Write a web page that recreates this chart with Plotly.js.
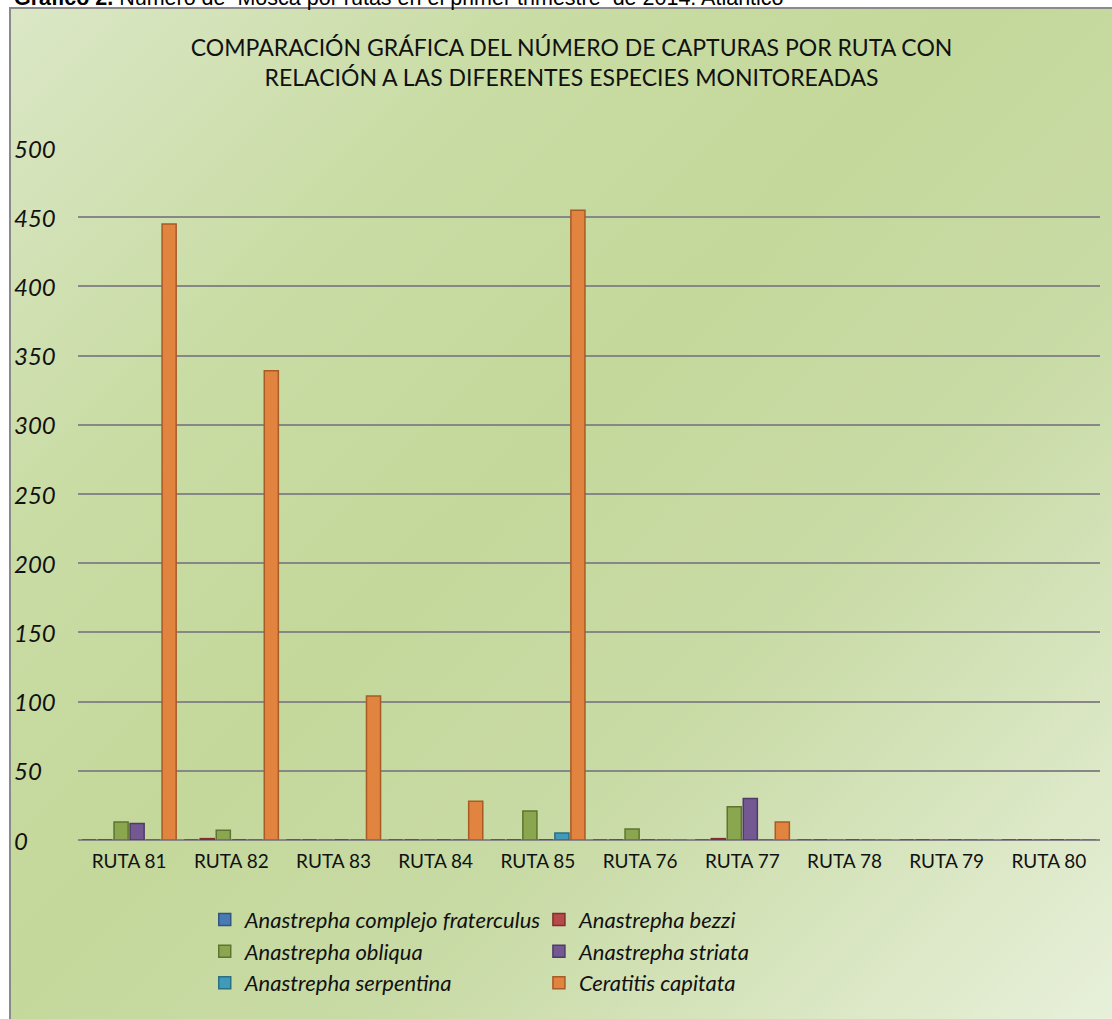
<!DOCTYPE html>
<html>
<head>
<meta charset="utf-8">
<script src="https://cdn.plot.ly/plotly-3.0.1.min.js"></script>
<style>
  html, body { margin: 0; padding: 0; background: #ffffff; overflow: hidden; }
  #frame {
    position: absolute; left: 9px; top: 7px; width: 1120px; height: 1030px;
    border-left: 2px solid #8a8a8a; border-top: 2px solid #8a8a8a;
    background: linear-gradient(135deg, #dbe7c6 0%, #c9dca4 25%, #c4d89b 45%, #c9dba6 65%, #e9f1dd 100%);
  }
  #chart { position: absolute; left: 0; top: 0; width: 1112px; height: 1019px; }
</style>
</head>
<body>
<div id="frame"></div>
<div id="chart"></div>
<script>
const categories = ["RUTA 81", "RUTA 82", "RUTA 83", "RUTA 84", "RUTA 85", "RUTA 76", "RUTA 77", "RUTA 78", "RUTA 79", "RUTA 80"];
const fraterculus = [0, 0, 0, 0, 0, 0, 0, 0, 0, 0];
const bezzi       = [0, 1, 0, 0, 0, 0, 1, 0, 0, 0];
const obliqua     = [13, 7, 0, 0, 21, 8, 24, 0, 0, 0];
const striata     = [12, 0, 0, 0, 0, 0, 30, 0, 0, 0];
const serpentina  = [0, 0, 0, 0, 5, 0, 0, 0, 0, 0];
const capitata    = [445, 339, 104, 28, 455, 0, 13, 0, 0, 0];
const yTicks = [0, 50, 100, 150, 200, 250, 300, 350, 400, 450, 500];

const seriesNames = ["Anastrepha complejo fraterculus", "Anastrepha bezzi", "Anastrepha obliqua",
                     "Anastrepha striata", "Anastrepha serpentina", "Ceratitis capitata"];
const seriesValues = [fraterculus, bezzi, obliqua, striata, serpentina, capitata];
const fills = ["#4a7ab5", "#b8494a", "#8aa74f", "#735892", "#3f9bb8", "#e0843f"];
const lines = ["#31557f", "#7f2f2f", "#5d7530", "#4f3a69", "#2a6f86", "#a95a25"];

const traces = seriesNames.map((n, i) => ({
  type: "bar", name: n, x: categories, y: seriesValues[i],
  legend: (i % 2 === 0) ? "legend" : "legend2",
  legendgroup: "g" + i,
  marker: { color: fills[i], line: { color: lines[i], width: 1.5 } },
  hoverinfo: "x+y+name"
}));

const annotations = yTicks.map(v => ({
  xref: "paper", yref: "y", x: 0, y: v, xshift: -66, xanchor: "left", yanchor: "middle",
  text: String(v), showarrow: false,
  font: { family: "Lato, 'Open Sans', sans-serif", size: 24, color: "#111", style: "italic" }
}));
annotations.push({
  xref: "paper", yref: "paper", x: 0, y: 1, xshift: -66, yshift: 148 - 12, xanchor: "left", yanchor: "bottom",
  text: "<b>Gráfico 2.</b> Número de  Mosca por rutas en el primer trimestre  de 2014. Atlántico",
  showarrow: false,
  font: { family: "'Liberation Sans', Arial, sans-serif", size: 21.5, color: "#000" }
});

const legendFont = { family: "Lato, 'Open Sans', sans-serif", size: 22, color: "#111", style: "italic" };

const layout = {
  width: 1112, height: 1019,
  paper_bgcolor: "rgba(0,0,0,0)", plot_bgcolor: "rgba(0,0,0,0)",
  margin: { l: 78, r: 12, t: 148, b: 179, autoexpand: false },
  title: {
    text: "COMPARACIÓN GRÁFICA DEL NÚMERO DE CAPTURAS POR RUTA CON<br>RELACIÓN A LAS DIFERENTES ESPECIES MONITOREADAS",
    x: 0.514, xanchor: "center", y: 0.945, yanchor: "top",
    font: { family: "Lato, 'Open Sans', sans-serif", size: 23, color: "#111" }
  },
  barmode: "group", bargap: 0.06, bargroupgap: 0.12,
  showlegend: true,
  legend: {
    orientation: "v", x: 0.124, xanchor: "left", y: -0.085, yanchor: "top",
    tracegroupgap: 4, font: legendFont, bgcolor: "rgba(0,0,0,0)", traceorder: "normal"
  },
  legend2: {
    orientation: "v", x: 0.451, xanchor: "left", y: -0.085, yanchor: "top",
    tracegroupgap: 4, font: legendFont, bgcolor: "rgba(0,0,0,0)", traceorder: "normal"
  },
  xaxis: {
    type: "category", showgrid: false, showline: false, ticks: "", automargin: false,
    tickfont: { family: "Lato, 'Open Sans', sans-serif", size: 19, color: "#111" },
    ticklabelstandoff: 8
  },
  yaxis: {
    range: [0, 500], tickvals: yTicks, showticklabels: false, automargin: false,
    showgrid: true, gridcolor: "#878787", gridwidth: 2,
    zeroline: true, zerolinecolor: "#878787", zerolinewidth: 2, showline: false, ticks: ""
  },
  annotations: annotations
};

Plotly.newPlot("chart", traces, layout, { displayModeBar: false, staticPlot: true });
</script>
</body>
</html>
